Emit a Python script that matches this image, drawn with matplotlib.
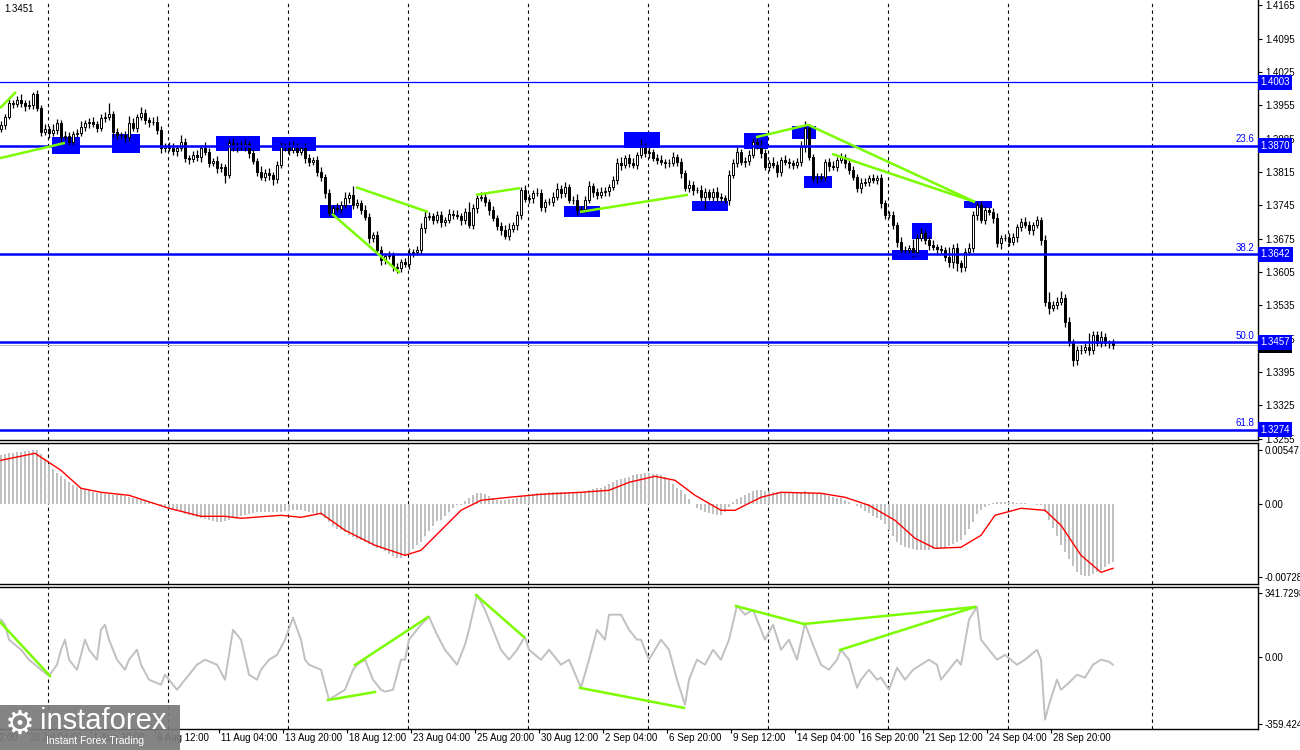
import numpy as np
import matplotlib.pyplot as plt
from matplotlib.patches import Rectangle

# ---- price data (H4 candles) ----
first_open = 1.3905
closes = [
    1.3913, 1.3930, 1.3960, 1.3958, 1.3966, 1.3960, 1.3953, 1.3956, 1.3979, 1.3949,
    1.3899, 1.3905, 1.3897, 1.3903, 1.3918, 1.3888, 1.3890, 1.3878, 1.3895, 1.3897,
    1.3909, 1.3918, 1.3920, 1.3916, 1.3907, 1.3928, 1.3930, 1.3937, 1.3899, 1.3892,
    1.3892, 1.3888, 1.3918, 1.3907, 1.3930, 1.3939, 1.3924, 1.3920, 1.3920, 1.3903,
    1.3865, 1.3869, 1.3865, 1.3859, 1.3865, 1.3878, 1.3844, 1.3842, 1.3851, 1.3846,
    1.3865, 1.3857, 1.3834, 1.3838, 1.3823, 1.3825, 1.3809, 1.3876, 1.3867, 1.3872,
    1.3867, 1.3874, 1.3855, 1.3838, 1.3815, 1.3804, 1.3813, 1.3809, 1.3800, 1.3830,
    1.3867, 1.3869, 1.3861, 1.3867, 1.3857, 1.3865, 1.3844, 1.3836, 1.3840, 1.3815,
    1.3804, 1.3771, 1.3729, 1.3739, 1.3737, 1.3745, 1.3760, 1.3766, 1.3745, 1.3750,
    1.3735, 1.3720, 1.3676, 1.3682, 1.3651, 1.3630, 1.3638, 1.3641, 1.3615, 1.3613,
    1.3626, 1.3622, 1.3645, 1.3647, 1.3651, 1.3697, 1.3720, 1.3722, 1.3714, 1.3724,
    1.3710, 1.3714, 1.3727, 1.3724, 1.3722, 1.3714, 1.3731, 1.3703, 1.3739, 1.3760,
    1.3762, 1.3752, 1.3735, 1.3718, 1.3701, 1.3693, 1.3680, 1.3695, 1.3703, 1.3724,
    1.3777, 1.3758, 1.3760, 1.3771, 1.3771, 1.3741, 1.3752, 1.3752, 1.3762, 1.3779,
    1.3771, 1.3783, 1.3756, 1.3756, 1.3735, 1.3737, 1.3756, 1.3785, 1.3773, 1.3766,
    1.3773, 1.3775, 1.3783, 1.3798, 1.3834, 1.3830, 1.3844, 1.3834, 1.3830, 1.3851,
    1.3867, 1.3855, 1.3857, 1.3844, 1.3840, 1.3836, 1.3834, 1.3834, 1.3846, 1.3836,
    1.3813, 1.3781, 1.3788, 1.3777, 1.3777, 1.3762, 1.3773, 1.3762, 1.3773, 1.3762,
    1.3760, 1.3756, 1.3809, 1.3834, 1.3857, 1.3836, 1.3838, 1.3851, 1.3878, 1.3872,
    1.3855, 1.3825, 1.3834, 1.3830, 1.3815, 1.3840, 1.3836, 1.3834, 1.3830, 1.3836,
    1.3867, 1.3907, 1.3846, 1.3802, 1.3802, 1.3804, 1.3836, 1.3827, 1.3825, 1.3840,
    1.3846, 1.3834, 1.3819, 1.3804, 1.3781, 1.3792, 1.3794, 1.3802, 1.3798, 1.3802,
    1.3750, 1.3724, 1.3724, 1.3703, 1.3668, 1.3651, 1.3651, 1.3655, 1.3647, 1.3676,
    1.3687, 1.3672, 1.3662, 1.3657, 1.3653, 1.3651, 1.3636, 1.3626, 1.3655, 1.3624,
    1.3615, 1.3647, 1.3655, 1.3724, 1.3745, 1.3714, 1.3735, 1.3731, 1.3718, 1.3666,
    1.3676, 1.3676, 1.3668, 1.3678, 1.3699, 1.3710, 1.3703, 1.3693, 1.3703, 1.3714,
    1.3672, 1.3542, 1.3529, 1.3536, 1.3542, 1.3550, 1.3500, 1.3458, 1.3420, 1.3441,
    1.3441, 1.3447, 1.3441, 1.3472, 1.3456, 1.3468, 1.3456, 1.3456, 1.3451,
]
# wick lengths in pips (0.0001)
upper_wick = [
    8, 6, 10, 6, 8, 12, 6, 10, 4, 8, 6, 10, 6, 12, 8, 6, 10, 8, 6, 8,
    12, 6, 8, 10, 6, 8, 10, 22, 6, 8, 6, 8, 14, 10, 6, 12, 8, 6, 10, 12,
    8, 6, 8, 10, 6, 14, 8, 6, 8, 10, 6, 12, 8, 6, 10, 8, 6, 8, 10, 6,
    8, 10, 6, 8, 6, 12, 8, 10, 6, 8, 10, 6, 8, 12, 8, 6, 10, 8, 6, 8,
    10, 6, 8, 6, 10, 8, 12, 6, 20, 8, 6, 10, 8, 6, 10, 8, 6, 8, 6, 8,
    6, 8, 10, 6, 8, 10, 12, 8, 6, 10, 8, 6, 10, 8, 12, 6, 8, 20, 8, 6,
    10, 8, 6, 8, 6, 8, 10, 12, 6, 8, 6, 10, 8, 6, 10, 8, 6, 8, 10, 12,
    8, 10, 6, 8, 12, 6, 8, 10, 6, 8, 10, 8, 6, 8, 10, 12, 6, 8, 10, 6,
    18, 8, 14, 6, 8, 10, 6, 8, 10, 6, 8, 6, 10, 8, 6, 10, 8, 6, 8, 10,
    8, 6, 10, 8, 10, 6, 8, 10, 8, 6, 10, 8, 6, 12, 8, 6, 10, 8, 6, 8,
    12, 14, 8, 6, 10, 8, 6, 8, 10, 6, 8, 6, 10, 8, 6, 10, 8, 6, 8, 6,
    8, 6, 10, 8, 6, 10, 8, 6, 20, 8, 10, 6, 8, 10, 6, 8, 6, 22, 8, 10,
    6, 8, 10, 8, 6, 10, 8, 6, 8, 10, 6, 8, 10, 8, 6, 8, 10, 8, 6, 8,
    6, 10, 20, 8, 10, 14, 8, 10, 6, 8, 10, 8, 30, 10, 8, 12, 8, 6, 8,
]
lower_wick = [
    6, 8, 4, 8, 6, 8, 10, 6, 8, 6, 8, 6, 10, 6, 8, 10, 6, 8, 8, 6,
    6, 8, 10, 6, 8, 6, 8, 6, 10, 8, 6, 10, 8, 6, 8, 6, 8, 10, 6, 8,
    10, 8, 6, 8, 10, 6, 8, 10, 6, 8, 10, 6, 8, 6, 10, 8, 18, 6, 8, 10,
    6, 8, 10, 6, 8, 6, 8, 10, 12, 8, 6, 8, 10, 6, 8, 6, 10, 8, 6, 8,
    8, 10, 6, 8, 6, 8, 6, 10, 8, 6, 8, 6, 10, 8, 6, 10, 8, 6, 8, 10,
    8, 6, 10, 8, 6, 8, 10, 6, 8, 6, 10, 8, 6, 8, 6, 10, 8, 6, 8, 10,
    6, 8, 10, 6, 8, 10, 6, 8, 6, 10, 8, 6, 8, 10, 6, 8, 10, 6, 8, 6,
    10, 8, 6, 8, 10, 6, 8, 6, 10, 8, 6, 8, 10, 6, 8, 10, 6, 8, 6, 8,
    6, 8, 10, 6, 8, 6, 10, 8, 6, 8, 10, 6, 8, 10, 6, 8, 24, 6, 8, 10,
    8, 6, 10, 6, 8, 6, 10, 8, 6, 8, 10, 6, 8, 6, 10, 8, 6, 10, 8, 6,
    8, 10, 6, 8, 10, 6, 8, 10, 6, 8, 6, 10, 8, 6, 8, 10, 6, 8, 6, 8,
    10, 8, 6, 8, 10, 12, 8, 6, 10, 8, 6, 8, 10, 6, 8, 6, 8, 10, 12, 16,
    10, 8, 6, 8, 10, 6, 8, 6, 10, 8, 12, 6, 8, 6, 10, 8, 6, 8, 10, 6,
    10, 8, 12, 6, 8, 6, 10, 8, 12, 10, 8, 6, 10, 8, 6, 8, 6, 10, 8,
]

# MACD histogram, in 0.0001
macd_hist = [
    49, 50, 51, 51, 52, 52, 53, 53, 54, 54, 50, 45, 40, 35, 31, 28, 25, 22, 19, 17,
    16, 15, 14, 12, 11, 11, 10, 10, 9, 9, 9, 8, 7, 6, 5, 4, 3, 2, 1, 0,
    -1, -3, -5, -6, -7, -8, -10, -11, -12, -13, -14, -15, -16, -17, -18, -18, -17, -16, -14, -13,
    -12, -11, -10, -9, -8, -8, -8, -8, -8, -8, -8, -7, -7, -6, -6, -6, -7, -8, -9, -10,
    -11, -14, -18, -22, -25, -26, -28, -31, -33, -35, -36, -38, -40, -42, -44, -45, -47, -50, -52, -54,
    -54, -52, -49, -45, -41, -38, -32, -27, -22, -17, -16, -12, -8, -4, -1, -1, 3, 6, 9, 11,
    11, 10, 8, 6, 4, 4, 4, 5, 5, 6, 7, 8, 9, 10, 11, 11, 11, 12, 12, 12,
    12, 12, 12, 12, 12, 12, 13, 14, 15, 16, 16, 18, 20, 22, 24, 25, 26, 27, 29, 30,
    30, 31, 31, 30, 30, 29, 27, 24, 20, 16, 14, 10, 5, 0, -4, -6, -8, -9, -10, -11,
    -11, -8, -3, 2, 5, 7, 9, 11, 13, 14, 14, 13, 13, 12, 12, 12, 12, 12, 12, 12,
    12, 13, 12, 11, 10, 10, 9, 8, 7, 6, 6, 4, 2, 0, -2, -4, -7, -9, -12, -14,
    -16, -20, -26, -32, -38, -41, -43, -44, -45, -46, -46, -46, -46, -45, -45, -45, -44, -42, -40, -38,
    -36, -31, -25, -18, -10, -6, -3, -1, 1, 2, 2, 2, 2, 2, 1, 1, 1, 0, 0, -1,
    -1, -8, -16, -24, -32, -41, -48, -55, -62, -68, -71, -72, -72, -70, -68, -66, -63, -60, -58,
]
# MACD signal line (bar, value in 0.0001)
signal_bars = [0, 8.5, 15, 20, 25, 32, 42, 50, 56, 60, 70, 75, 80, 86, 93.5, 101, 105, 110,
               115, 120, 127, 135, 145, 152, 157, 163.5, 168.5, 173.5, 180, 183.5, 190, 195,
               205, 211, 217, 223.5, 228.5, 233.5, 240, 245, 248.5, 255, 261, 265, 270, 275, 278]
signal_vals = [44, 51, 34, 16, 12, 9, -4, -12, -12, -14, -11, -13, -9, -26, -41, -51, -46, -26,
               -6, 4, 7, 10, 12, 14, 22, 28, 24, 9, -6, -6, 7, 12,
               11, 7, -1, -16, -34, -44, -43, -31, -11, -4, -6, -21, -51, -68, -64]

# CCI (bar, value)
cci_bars = [0, 1, 2, 5, 7, 10, 12, 14, 15, 16, 17, 19, 20, 21, 22, 24, 25, 26, 27, 29,
            30, 31, 32, 34, 35, 37, 40, 41, 42, 44, 46, 49, 51, 54, 56, 58, 60, 62, 64, 65,
            67, 69, 71, 73, 75, 76, 77, 80, 82, 84, 86, 88, 89, 91, 93, 95, 96, 98, 100, 101,
            102, 105, 107, 109, 111, 114, 116, 117, 119, 121, 124, 125, 127, 129, 131, 132, 135, 137, 140, 142,
            145, 147, 149, 151, 152, 155, 157, 159, 160, 162, 165, 167, 169, 171, 172, 174, 176, 178, 180, 182,
            184, 186, 188, 190, 191, 193, 195, 197, 199, 201, 203, 205, 207, 209, 210, 212, 214, 215, 217, 219,
            220, 222, 224, 226, 228, 230, 232, 234, 235, 237, 239, 240, 242, 244, 245, 247, 249, 251, 254, 256,
            259, 260, 261, 262, 264, 265, 267, 269, 271, 273, 275, 277, 278]
cci_vals = [198, 171, 91, 37, -16, -70, -102, -43, 37, 91, -16, -70, 9, 91, 37, -16, 144, 171, 91, -16,
            -43, -70, -16, 37, -43, -123, -150, -96, -123, -177, -123, -43, -16, -43, -123, 144, 91, -96, -123, -70,
            -16, 9, 91, 209, 91, -16, -43, -70, -230, -203, -177, -70, -43, -16, -123, -177, -187, -177, -16, -16,
            91, 171, 214, 118, 37, -43, 64, 144, 332, 251, 91, 37, -16, 37, 107, 37, -16, 37, -43, -16,
            -166, -16, 144, 91, 225, 225, 144, 91, 91, -16, 91, 37, -123, -257, -123, -16, -43, 37, -16, 91,
            273, 225, 251, 144, 91, 171, 37, 91, -16, 177, 64, -43, -70, -16, 37, -16, -166, -123, -70, -123,
            -112, -177, -59, -123, -70, -43, -16, -43, -123, -70, -16, -43, 198, 268, 91, 37, -16, 9, -43, -16,
            37, -16, -337, -257, -123, -177, -139, -96, -112, -43, -16, -27, -43]

# horizontal levels and labels
levels = [1.4003, 1.3870, 1.3642, 1.3457, 1.3274]
level_widths = [0.9, 1.8, 1.8, 1.8, 1.8]
fib_labels = {1.3870: '23.6', 1.3642: '38.2', 1.3457: '50.0', 1.3274: '61.8'}
last_price = 1.3451

# blue boxes: (bar_start, bar_end, top, bottom)
boxes = [
    (12.75, 19.75, 1.3888, 1.3853), (27.75, 34.75, 1.3895, 1.3855),
    (53.75, 64.75, 1.3891, 1.3859), (67.75, 78.75, 1.3888, 1.3859),
    (79.75, 87.75, 1.3746, 1.3718), (140.75, 149.75, 1.3744, 1.3720),
    (155.75, 164.75, 1.3899, 1.3865), (172.75, 181.75, 1.3754, 1.3733),
    (185.75, 191.75, 1.3897, 1.3863), (197.75, 203.75, 1.3911, 1.3884),
    (200.75, 207.75, 1.3807, 1.3781), (222.75, 231.75, 1.3651, 1.3630),
    (227.75, 232.75, 1.3708, 1.3674), (240.75, 247.75, 1.3754, 1.3739),
]
# green trend lines on price: (bar0, price0, bar1, price1)
price_lines = [
    (-0.25, 1.3949, 3.75, 1.3983), (-0.25, 1.3844, 16, 1.3876),
    (88.75, 1.3783, 106.75, 1.3731), (82.75, 1.3727, 99.75, 1.3603),
    (118.75, 1.3767, 129.75, 1.3781), (144.75, 1.3731, 171.75, 1.3767),
    (188.75, 1.3888, 201.75, 1.3914), (201.75, 1.3914, 243.5, 1.3752),
    (207.75, 1.3853, 243.5, 1.3752),
]
# green lines on CCI
cci_lines = [
    (-0.25, 186, 12.25, -103), (81.75, -232, 93.5, -189), (88.5, -44, 106.75, 212),
    (118.75, 330, 130.75, 105), (144.75, -167, 170.75, -274), (183.75, 271, 200.75, 175),
    (200.75, 175, 243.5, 266), (209.75, 36, 243.5, 266),
]

x_label_bars = [-9.5 + 16 * k for k in range(18)]
x_labels = ['25 Jul 12:00', '30 Jul 04:00', '1 Aug 20:00', '6 Aug 12:00', '11 Aug 04:00',
            '13 Aug 20:00', '18 Aug 12:00', '23 Aug 04:00', '25 Aug 20:00', '30 Aug 12:00',
            '2 Sep 04:00', '6 Sep 20:00', '9 Sep 12:00', '14 Sep 04:00', '16 Sep 20:00',
            '21 Sep 12:00', '24 Sep 04:00', '28 Sep 20:00']
grid_bars = [11.75, 41.75, 71.75, 101.75, 131.75, 161.75, 191.75, 221.75, 251.75, 287.75]

W, H = 1300, 750
BLUE = '#0000ff'
GREEN = '#7cfc00'
FS = 7

plt.rcParams['font.family'] = ['Liberation Sans', 'DejaVu Sans']
fig = plt.figure(figsize=(W / 100, H / 100), dpi=100)


def px_axes(top, bottom, right=1258):
    return fig.add_axes([0, 1 - bottom / H, right / W, (bottom - top) / H])


ax = px_axes(0, 440)
ax_macd = px_axes(443, 584)
ax_cci = px_axes(587, 729)

for a in (ax, ax_macd, ax_cci):
    a.set_xlim(-0.25, 314.25)
    a.set_facecolor('white')
    a.spines['left'].set_visible(False)
    for s in ('right', 'top', 'bottom'):
        a.spines[s].set_linewidth(1.0)
    a.yaxis.tick_right()
    a.tick_params(axis='y', direction='out', length=3, width=0.8, labelsize=FS, pad=2)
    a.tick_params(axis='x', bottom=False, labelbottom=False)
    for g in grid_bars:
        a.axvline(g, color='black', lw=0.8, ls=(0, (3, 3)), zorder=0.5)
ax.spines['top'].set_visible(False)

# ---- main price panel ----
closes = np.array(closes)
n = len(closes)
idx = np.arange(n)
opens = np.r_[first_open, closes[:-1]]
highs = np.maximum(opens, closes) + np.array(upper_wick) / 1e4
lows = np.minimum(opens, closes) - np.array(lower_wick) / 1e4
up = closes >= opens

for b0, b1, top, bot in boxes:
    ax.add_patch(Rectangle((b0, bot), b1 - b0, top - bot, fc=BLUE, ec='none', zorder=1))

ax.axhline(last_price, color='#c0c0c0', lw=0.8, zorder=1.5)
ax.vlines(idx, lows, highs, color='black', lw=0.9, zorder=2)
ax.bar(idx, closes - opens, bottom=opens, width=0.72,
       color=np.where(up, 'white', 'black'), edgecolor='black', linewidth=0.7, zorder=3)

for lvl, lw in zip(levels, level_widths):
    ax.axhline(lvl, color=BLUE, lw=lw, zorder=4)
    if lvl in fib_labels:
        ax.text(0.997, lvl + 0.0003, fib_labels[lvl], transform=ax.get_yaxis_transform(),
                ha='right', va='bottom', color=BLUE, fontsize=FS)

for b0, p0, b1, p1 in price_lines:
    ax.plot([b0, b1], [p0, p1], color=GREEN, lw=1.8, zorder=5, solid_capstyle='butt')

ax.set_ylim(1.32521, 1.41761)
yt = np.round(1.3255 + 0.0070 * np.arange(14), 4)
ax.set_yticks(yt)
ax.set_yticklabels([f'{v:.4f}' for v in yt])

# price tags on the axis
ax.text(1.002, last_price - 0.0002, f'{last_price:.4f}', transform=ax.get_yaxis_transform(),
        color='white', fontsize=FS, ha='left', va='center', clip_on=False, zorder=6,
        bbox=dict(boxstyle='square,pad=0.2', fc='black', ec='none'))
for lvl in levels:
    ax.text(1.002, lvl, f'{lvl:.4f}', transform=ax.get_yaxis_transform(),
            color='white', fontsize=FS, ha='left', va='center', clip_on=False, zorder=7,
            bbox=dict(boxstyle='square,pad=0.25', fc=BLUE, ec='none'))

# ---- MACD panel ----
ax_macd.bar(idx, np.array(macd_hist) * 1e-4, width=0.55, color='#c0c0c0', zorder=2)
ax_macd.plot(signal_bars, np.array(signal_vals) * 1e-4, color='red', lw=1, zorder=3)
ax_macd.set_ylim(-0.00797, 0.00613)
ax_macd.set_yticks([0.00547, 0.0, -0.00728])
ax_macd.set_yticklabels(['0.00547', '0.00', '-0.00728'])

# ---- CCI panel ----
ax_cci.plot(cci_bars, cci_vals, color='#c0c0c0', lw=1.4, zorder=2)
for b0, v0, b1, v1 in cci_lines:
    ax_cci.plot([b0, b1], [v0, v1], color=GREEN, lw=1.8, zorder=3)
ax_cci.set_ylim(-387, 373)
ax_cci.set_yticks([341.7298, 0.0, -359.424])
ax_cci.set_yticklabels(['341.7298', '0.00', '-359.424'])

# time axis
ax_cci.set_xticks([b for b in x_label_bars if b > -0.25])
ax_cci.tick_params(axis='x', bottom=True, direction='out', length=3, width=0.8)
for b, lbl in zip(x_label_bars, x_labels):
    ax_cci.text(b + 0.5, -0.065, lbl, transform=ax_cci.get_xaxis_transform(),
                ha='left', va='center', fontsize=FS, clip_on=False)

# top-left price readout
fig.text(4 / W, 1 - 9 / H, '1.3451', fontsize=FS, va='center', ha='left')

# watermark
fig.patches.append(Rectangle((0, 0), 180 / W, 45 / H, transform=fig.transFigure,
                             fc='#7a7a7a', ec='none', alpha=0.92, zorder=10))
fig.text(5 / W, 1 - 724 / H, '\u2699', color='white', fontsize=24, va='center', ha='left',
         family='DejaVu Sans', zorder=11)
fig.text(40 / W, 1 - 721 / H, 'instaforex', color='white', fontsize=21, va='center', ha='left', zorder=11)
fig.text(46 / W, 1 - 741 / H, 'Instant Forex Trading', color='white', fontsize=7.5, va='center',
         ha='left', zorder=11)

fig.savefig('out.png', dpi=100)
